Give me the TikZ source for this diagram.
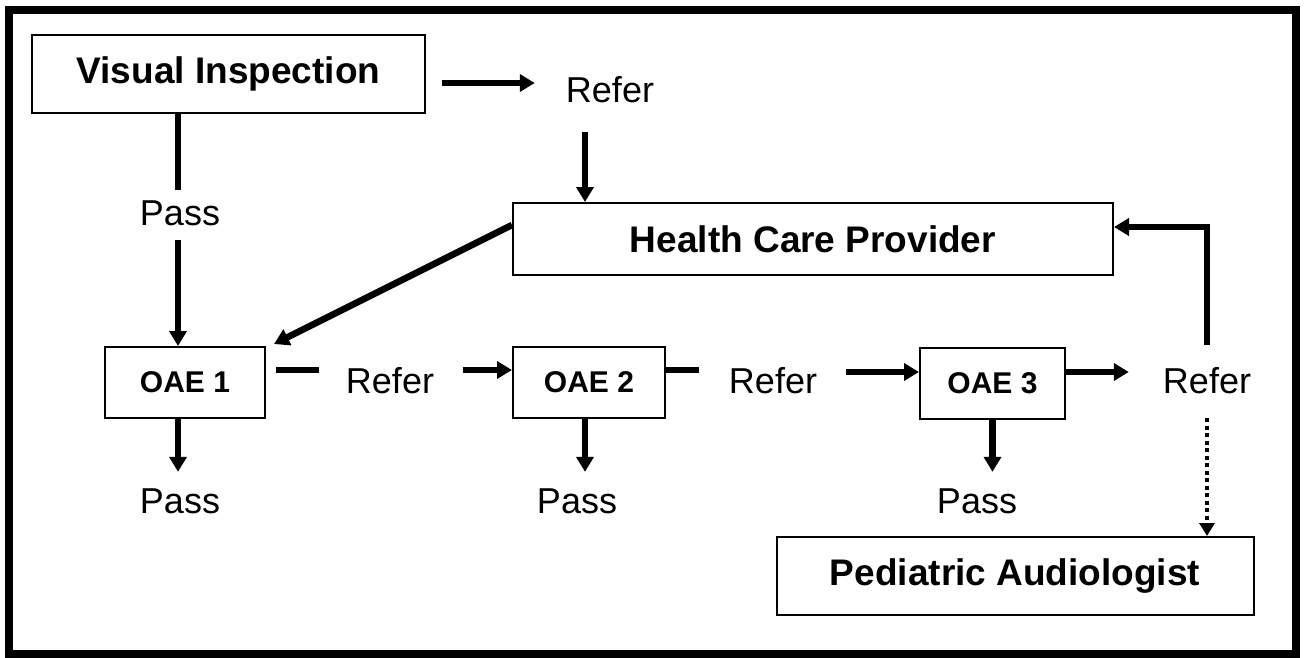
\documentclass[tikz,border=0pt]{standalone}
\usepackage{fontspec}
\setmainfont{Liberation Sans}
\usetikzlibrary{arrows.meta,positioning}

\begin{document}
\begin{tikzpicture}[x=1pt,y=-1pt,
  box/.style={draw, line width=2pt, font=\bfseries\fontsize{37}{42}\selectfont, inner sep=0pt},
  oaebox/.style={draw, line width=2pt, font=\bfseries\fontsize{30}{36}\selectfont, inner sep=0pt, minimum height=71pt},
  lbl/.style={font=\fontsize{36}{40}\selectfont, inner sep=0pt, text height=26pt, text depth=0pt},
  link/.style={line width=6.5pt},
  arr/.style={link, -{Triangle[width=17pt,length=15pt]}},
  dotarr/.style={line width=4.5pt, dash pattern=on 4pt off 3.5pt, -{Triangle[width=15pt,length=13pt]}}]

  \useasboundingbox (0,0) rectangle (1304,658);
  \draw[line width=8pt] (9,10) rectangle (1296,654);

  % boxes
  \node[box, minimum width=393pt, minimum height=78pt] (vi) at (228.5,74) {Visual Inspection};
  \node[box, minimum width=600pt, minimum height=72pt] (hcp) at (813,239) {Health Care Provider};
  \node[box, minimum width=477pt, minimum height=78pt] (pa) at (1015,576) {Pediatric Audiologist};
  \node[oaebox, minimum width=160pt] (oae1) at (185,382.5) {OAE 1};
  \node[oaebox, minimum width=152pt] (oae2) at (589,382.5) {OAE 2};
  \node[oaebox, minimum width=145pt] (oae3) at (992.5,383) {OAE 3};

  % labels
  \node[lbl] (refer0) at (610,90) {Refer};
  \node[lbl] (pass0) at (180,212) {Pass};
  \node[lbl] (refer1) at (390,380) {Refer};
  \node[lbl] (refer2) at (773,380) {Refer};
  \node[lbl] (refer3) at (1207,380) {Refer};
  \node[lbl] (pass1) at (180,500) {Pass};
  \node[lbl] (pass2) at (577,500) {Pass};
  \node[lbl] (pass3) at (977,500) {Pass};

  % top part
  \draw[arr, shorten <=16pt, shorten >=31pt] ([yshift=-9pt]vi.east) -- ([yshift=-9pt]vi.east -| refer0.west);
  \draw[arr, shorten <=29pt] ([xshift=-25pt]refer0.south) -- ([xshift=-25pt]refer0.south |- hcp.north);
  \draw[link, shorten >=9pt] ([xshift=-2pt]vi.south -| pass0.north) -- ([xshift=-2pt]pass0.north);
  \draw[arr, shorten <=15pt] ([xshift=-2pt]pass0.south) -- ([xshift=-2pt]pass0.south |- oae1.north);
  \draw[arr] ([yshift=14pt]hcp.west) -- ([xshift=8pt,yshift=2pt]oae1.north east);

  % OAE chain
  \draw[link, shorten <=10pt, shorten >=27pt] ([yshift=12.5pt]oae1.east) -- ([yshift=12.5pt]oae1.east -| refer1.west);
  \draw[arr, shorten <=29pt] ([yshift=12.5pt]oae2.west -| refer1.east) -- ([yshift=12.5pt]oae2.west);
  \draw[link, shorten >=30pt] ([yshift=12.5pt]oae2.east) -- ([yshift=12.5pt]oae2.east -| refer2.west);
  \draw[arr, shorten <=29pt] ([yshift=11pt]oae3.west -| refer2.east) -- ([yshift=11pt]oae3.west);
  \draw[arr, shorten >=34pt] ([yshift=11pt]oae3.east) -- ([yshift=11pt]oae3.east -| refer3.west);

  % pass arrows
  \draw[arr, shorten >=15pt] ([xshift=-7pt]oae1.south) -- ([xshift=-7pt]oae1.south |- pass1.north);
  \draw[arr, shorten >=15pt] ([xshift=-4pt]oae2.south) -- ([xshift=-4pt]oae2.south |- pass2.north);
  \draw[arr, shorten >=15pt] (oae3.south) -- (oae3.south |- pass3.north);

  % refer 3 outcomes
  \draw[arr, shorten <=22pt] (refer3.north) |- ([yshift=12pt]hcp.east);
  \draw[dotarr, shorten <=25pt] (refer3.south) -- (refer3.south |- pa.north);
\end{tikzpicture}
\end{document}
